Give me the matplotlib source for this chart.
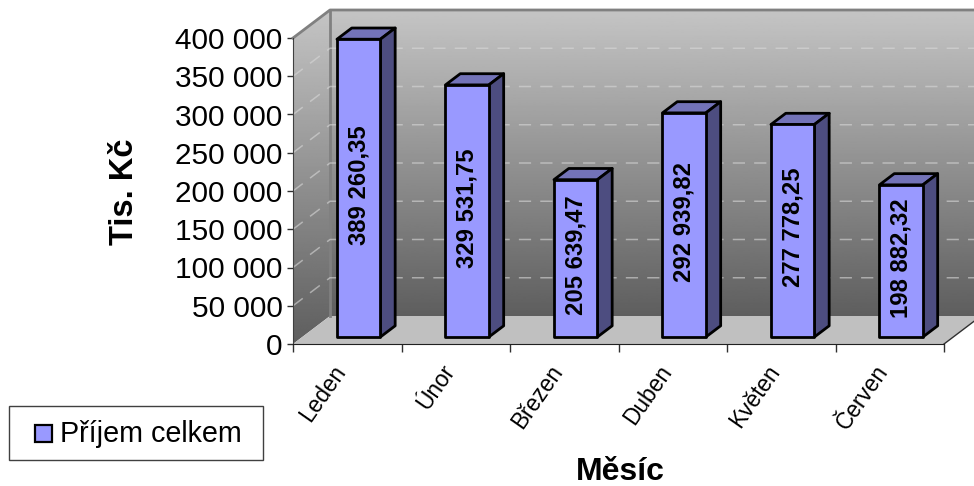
import numpy as np
import matplotlib
matplotlib.use('Agg')
import matplotlib.pyplot as plt
from matplotlib.patches import Polygon, Rectangle

plt.rcParams['font.family'] = ['Liberation Sans', 'DejaVu Sans']

months = ['Leden', 'Únor', 'Březen', 'Duben', 'Květen', 'Červen']
income = [389260.35, 329531.75, 205639.47, 292939.82, 277778.25, 198882.32]
income_labels = ['389 260,35', '329 531,75', '205 639,47', '292 939,82', '277 778,25', '198 882,32']
y_ticks = [0, 50000, 100000, 150000, 200000, 250000, 300000, 350000, 400000]
y_labels = ['0', '50 000', '100 000', '150 000', '200 000', '250 000', '300 000', '350 000', '400 000']

W, H = 974, 486
Y_MAX = 400000

# fake 3D: one unit of depth moves a point this far back and up
DEPTH_X = 0.341
DEPTH_Y = 36600
BAR_START = 0.32
BAR_W = 0.40
BAR_D0 = 0.25
BAR_D1 = 0.65


def proj(x, y, d=0):
    return (x + d * DEPTH_X, y + d * DEPTH_Y)


def gradient(ax, verts, extent):
    # vertical grey fade, clipped to the wall shape and not to the axes
    grad = np.linspace(0.37, 0.77, 256).reshape(-1, 1)
    im = ax.imshow(grad, cmap='gray', vmin=0, vmax=1, origin='lower', extent=extent,
                   aspect='auto', zorder=1)
    im.set_clip_box(fig.bbox)
    im.set_clip_path(Polygon(verts, closed=True, transform=ax.transData))


fig = plt.figure(figsize=(W / 100, H / 100), dpi=100)
ax = fig.add_axes([293 / W, (H - 344) / H, (944 - 293) / W, (344 - 38) / H])
ax.patch.set_visible(False)

n = len(months)

# walls and floor
back = [proj(0, 0, 1), proj(n, 0, 1), proj(n, Y_MAX, 1), proj(0, Y_MAX, 1)]
left = [proj(0, 0), proj(0, 0, 1), proj(0, Y_MAX, 1), proj(0, Y_MAX)]
floor = [proj(0, 0), proj(n, 0), proj(n, 0, 1), proj(0, 0, 1)]

gradient(ax, back, [DEPTH_X, n + DEPTH_X, DEPTH_Y, Y_MAX + DEPTH_Y])
gradient(ax, left, [0, DEPTH_X, 0, Y_MAX + DEPTH_Y])
ax.add_patch(Polygon(floor, closed=True, fc='#c0c0c0', ec='none', zorder=1.5, clip_on=False))

# wall edges
ax.plot(*zip(proj(0, Y_MAX), proj(0, Y_MAX, 1), proj(n, Y_MAX, 1)), color='#808080', lw=2,
        zorder=2, clip_on=False)
ax.plot(*zip(proj(0, 0, 1), proj(0, Y_MAX, 1)), color='#808080', lw=2, zorder=2, clip_on=False)
ax.plot(*zip(proj(n, 0), proj(n, 0, 1)), color='#303030', lw=1, zorder=2, clip_on=False)

# gridlines
for t in y_ticks[1:-1]:
    ax.plot(*zip(proj(0, t), proj(0, t, 1), proj(n, t, 1)), color='#d8d8d8', lw=1.1, alpha=0.6,
            dashes=(8, 6), zorder=2, clip_on=False)

# bars
for i, (v, lab) in enumerate(zip(income, income_labels)):
    x0 = i + BAR_START
    x1 = x0 + BAR_W
    top = [proj(x0, v, BAR_D0), proj(x1, v, BAR_D0), proj(x1, v, BAR_D1), proj(x0, v, BAR_D1)]
    side = [proj(x1, 0, BAR_D0), proj(x1, 0, BAR_D1), proj(x1, v, BAR_D1), proj(x1, v, BAR_D0)]
    front = [proj(x0, 0, BAR_D0), proj(x1, 0, BAR_D0), proj(x1, v, BAR_D0), proj(x0, v, BAR_D0)]
    ax.add_patch(Polygon(top, closed=True, fc='#7373b8', ec='black', lw=2, joinstyle='round',
                         zorder=3, clip_on=False))
    ax.add_patch(Polygon(side, closed=True, fc='#4d4d80', ec='black', lw=2, joinstyle='round',
                         zorder=3, clip_on=False))
    ax.add_patch(Polygon(front, closed=True, fc='#9999ff', ec='black', lw=2, joinstyle='round',
                         zorder=4, clip_on=False))
    cx, cy = proj((x0 + x1) / 2, v / 2, BAR_D0)
    ax.annotate(lab, (cx, cy), xytext=(0, 2.2), textcoords='offset points', rotation=90, ha='center',
                va='center', fontsize=17.2, fontweight='bold', color='black', zorder=5)

ax.set_xlim(0, n)
ax.set_ylim(0, Y_MAX)

for s in ['top', 'right']:
    ax.spines[s].set_visible(False)
ax.spines['left'].set_color('#404040')
ax.spines['bottom'].set_color('#202020')
ax.spines['left'].set_zorder(2.5)
ax.spines['bottom'].set_zorder(2.5)

ax.set_yticks(y_ticks)
ax.set_yticklabels(y_labels, fontsize=21.4)
ax.tick_params(axis='y', length=4, width=1, pad=3.5, color='#303030')
ax.set_xticks(np.arange(n + 1))
ax.set_xticklabels([])
ax.tick_params(axis='x', which='major', length=5.5, width=1, color='#303030')
# the slanted month names sit left of the slot centres
ax.set_xticks(np.arange(n) + 0.36, minor=True)
ax.set_xticklabels(months, minor=True, rotation=55, ha='right', va='top', rotation_mode='anchor',
                   fontsize=16.3)
ax.tick_params(axis='x', which='minor', length=0, pad=12)

fig.text(125 / W, 1 - 192 / H, 'Tis. Kč', rotation=90, ha='center', va='center', fontsize=23.5,
         fontweight='bold')
fig.text(620 / W, 1 - 472 / H, 'Měsíc', ha='center', va='center', fontsize=23, fontweight='bold')

# legend box drawn by hand to keep the square marker and frame in place
fig.add_artist(Rectangle((9 / W, 1 - 460 / H), 254 / W, 54 / H, transform=fig.transFigure,
                         fc='white', ec='#404040', lw=1))
fig.add_artist(Rectangle((35 / W, 1 - 442 / H), 17 / W, 17 / H, transform=fig.transFigure,
                         fc='#9999ff', ec='black', lw=1.6))
fig.text(60 / W, 1 - 434 / H, 'Příjem celkem', ha='left', va='center', fontsize=20.7)

fig.savefig('out.png', dpi=100)
